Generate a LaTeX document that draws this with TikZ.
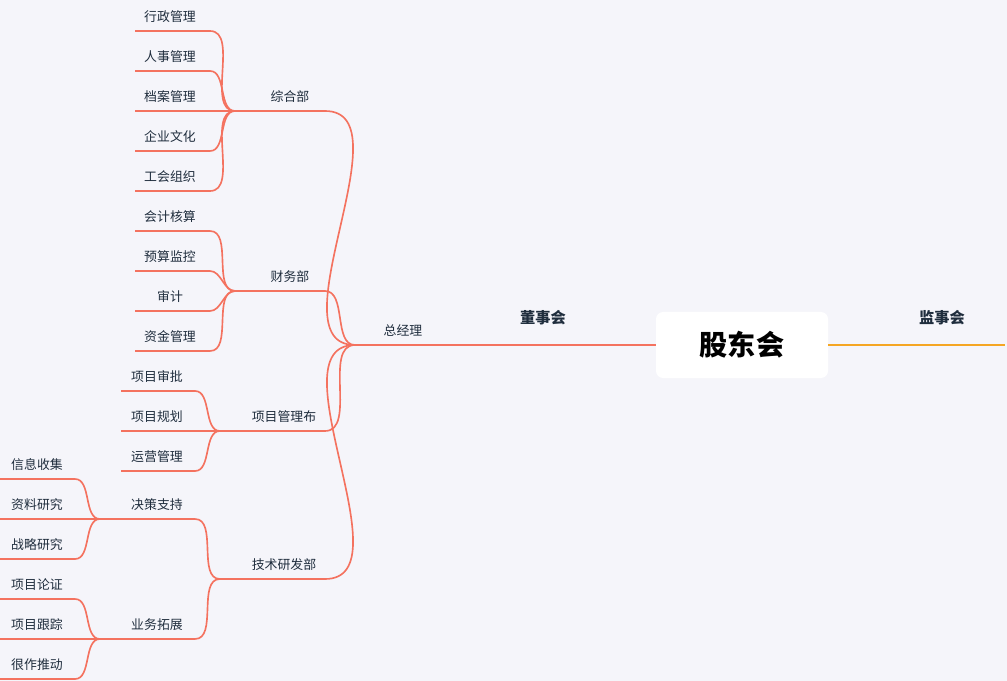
\documentclass[tikz,border=0pt]{standalone}
\usepackage{fontspec}
\setmainfont{Noto Sans CJK SC}
\definecolor{bgcol}{HTML}{F5F5FA}
\definecolor{branchred}{HTML}{F4725F}
\definecolor{branchorange}{HTML}{F5A623}
\definecolor{inkcol}{HTML}{1F2D3D}
% one topic: underline plus its text
\newcommand{\topic}[6]{%
  \coordinate (#1-l) at (#2,#4);
  \coordinate (#1-r) at (#3,#4);
  \draw[branch] (#1-l) -- (#1-r);
  \node[lbl] (#1) at (#5,#4-14) {#6};
}
\begin{document}
\begin{tikzpicture}[x=0.3mm,y=-0.3mm,
    branch/.style={draw=branchred,line width=1.4pt},
    lbl/.style={text=inkcol,font=\fontsize{11}{13}\selectfont,inner sep=0pt},
    head/.style={text=inkcol,font=\fontsize{13}{15}\selectfont\bfseries,inner sep=0pt},
    link/.style={branch,out=180,in=0,looseness=0.9}]
  \fill[bgcol] (0,0) rectangle (1007,681);
  \useasboundingbox (0,0) rectangle (1007,681);
  % centre
  \node[fill=white,rounded corners=6pt,minimum width=172*0.3mm,minimum height=66*0.3mm,
        text=black,font=\fontsize{24}{28}\selectfont\bfseries] (root) at (742,345) {股东会};
  \coordinate (jsh-r) at (1005,345);
  \draw[draw=branchorange,line width=1.4pt] (root.east) -- (jsh-r);
  \node[head] (jsh) at (942,318) {监事会};
  \coordinate (dsh-l) at (440,345);
  \draw[branch] (root.west) -- (dsh-l);
  \node[head] (dsh) at (543,318) {董事会};
  \topic{zjl}{355}{440}{345}{403}{总经理}
  % departments
  \topic{zh}{235}{325}{111}{290}{综合部}
  \topic{cw}{235}{325}{291}{290}{财务部}
  \topic{xm}{220}{325}{431}{284}{项目管理布}
  \topic{js}{220}{325}{579}{284}{技术研发部}
  \foreach \d in {zh,cw,xm,js}
    \draw[link] (zjl-l) to (\d-r);
  % 综合部
  \topic{zh1}{135}{210}{31}{170}{行政管理}
  \topic{zh2}{135}{210}{71}{170}{人事管理}
  \topic{zh3}{135}{210}{111}{170}{档案管理}
  \topic{zh4}{135}{210}{151}{170}{企业文化}
  \topic{zh5}{135}{210}{191}{170}{工会组织}
  \foreach \c in {zh1,zh2,zh3,zh4,zh5}
    \draw[link] (zh-l) to (\c-r);
  % 财务部
  \topic{cw1}{135}{210}{231}{170}{会计核算}
  \topic{cw2}{135}{210}{271}{170}{预算监控}
  \topic{cw3}{135}{210}{311}{170}{审计}
  \topic{cw4}{135}{210}{351}{170}{资金管理}
  \foreach \c in {cw1,cw2,cw3,cw4}
    \draw[link] (cw-l) to (\c-r);
  % 项目管理布
  \topic{xm1}{121}{195}{391}{157}{项目审批}
  \topic{xm2}{121}{195}{431}{157}{项目规划}
  \topic{xm3}{121}{195}{471}{157}{运营管理}
  \foreach \c in {xm1,xm2,xm3}
    \draw[link] (xm-l) to (\c-r);
  % 技术研发部
  \topic{jc}{100}{195}{519}{157}{决策支持}
  \topic{yw}{100}{195}{639}{157}{业务拓展}
  \foreach \c in {jc,yw}
    \draw[link] (js-l) to (\c-r);
  \topic{jc1}{0}{75}{479}{37}{信息收集}
  \topic{jc2}{0}{75}{519}{37}{资料研究}
  \topic{jc3}{0}{75}{559}{37}{战略研究}
  \foreach \c in {jc1,jc2,jc3}
    \draw[link] (jc-l) to (\c-r);
  \topic{yw1}{0}{75}{599}{37}{项目论证}
  \topic{yw2}{0}{75}{639}{37}{项目跟踪}
  \topic{yw3}{0}{75}{679}{37}{很作推动}
  \foreach \c in {yw1,yw2,yw3}
    \draw[link] (yw-l) to (\c-r);
\end{tikzpicture}
\end{document}
